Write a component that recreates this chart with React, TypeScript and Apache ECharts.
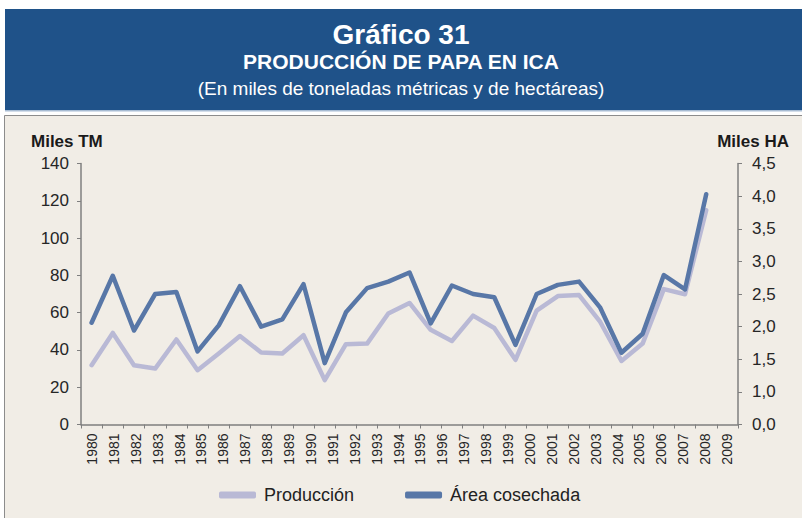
import React, { useEffect, useRef } from "react";
import * as echarts from "echarts";

// Year labels shown under the axis
const years: string[] = [
  "1980","1981","1982","1983","1984","1985","1986","1987","1988","1989",
  "1990","1991","1992","1993","1994","1995","1996","1997","1998","1999",
  "2000","2001","2002","2003","2004","2005","2006","2007","2008","2009",
];
// Plot slots of the data axis (the original axis keeps one empty slot at the end)
const dataSlots: string[] = [...years, ""];

// Producción (miles TM) – left axis
const produccion: number[] = [
  31.8, 49.1, 31.8, 30.0, 45.6, 29.1, 38.1, 47.5, 38.6, 38.1,
  47.9, 23.8, 43.1, 43.4, 59.5, 65.2, 50.8, 44.8, 58.4, 51.8,
  34.7, 61.1, 68.9, 69.4, 55.0, 34.1, 43.4, 72.6, 69.9, 114.9,
];
// Área cosechada (miles HA) – right axis
const area: number[] = [
  2.06, 2.78, 1.94, 2.50, 2.53, 1.62, 2.02, 2.62, 2.00, 2.11,
  2.65, 1.44, 2.22, 2.59, 2.69, 2.83, 2.05, 2.63, 2.50, 2.45,
  1.72, 2.50, 2.64, 2.69, 2.29, 1.60, 1.89, 2.79, 2.57, 4.03,
];

const leftTicks = { min: 0, max: 140, interval: 20 };
const rightTicks = { min: 0.5, max: 4.5, interval: 0.5 };
const rightTickLabels: string[] = ["0,0", "1,0", "1,5", "2,0", "2,5", "3,0", "3,5", "4,0", "4,5"];

const FONT = "'Liberation Sans', Arial, sans-serif";
const AXIS_GRAY = "#7f7f7f";
const LIGHT = "#b9b9d5";
const DARK = "#5877a7";

export default function App() {
  const ref = useRef<HTMLDivElement>(null);
  useEffect(() => {
    if (!ref.current) return;
    const chart = echarts.init(ref.current, undefined, { renderer: "svg" });
    chart.setOption({
      animation: false,
      backgroundColor: "#ffffff",
      textStyle: { fontFamily: FONT },
      graphic: [
        { type: "rect", z: -10, shape: { x: 5, y: 9, width: 797, height: 101 }, style: { fill: "#1f5289" } },
        { type: "rect", z: -10, shape: { x: 5, y: 110, width: 797, height: 1.5 }, style: { fill: "#a8bcd3" } },
        { type: "rect", z: -10, shape: { x: 4.5, y: 115.5, width: 800, height: 410 }, style: { fill: "#f1ede6", stroke: "#8c8c8c", lineWidth: 1 } },
        { type: "text", x: 401, y: 34, style: { text: "Gráfico 31", fill: "#ffffff", font: `bold 28px ${FONT}`, textAlign: "center", textVerticalAlign: "middle" } },
        { type: "text", x: 401, y: 61, style: { text: "PRODUCCIÓN DE PAPA EN ICA", fill: "#ffffff", font: `bold 21px ${FONT}`, textAlign: "center", textVerticalAlign: "middle" } },
        { type: "text", x: 401, y: 88, style: { text: "(En miles de toneladas métricas y de hectáreas)", fill: "#ffffff", font: `19px ${FONT}`, textAlign: "center", textVerticalAlign: "middle" } },
        { type: "text", x: 31, y: 141, style: { text: "Miles TM", fill: "#1a1a1a", font: `bold 17px ${FONT}`, textAlign: "left", textVerticalAlign: "middle" } },
        { type: "text", x: 789, y: 141, style: { text: "Miles HA", fill: "#1a1a1a", font: `bold 17px ${FONT}`, textAlign: "right", textVerticalAlign: "middle" } },
      ],
      grid: { left: 81, right: 64, top: 163.5, bottom: 93.5, containLabel: false },
      legend: {
        data: ["Producción", "Área cosechada"],
        left: 214,
        top: 481,
        icon: "roundRect",
        itemWidth: 37,
        itemHeight: 7,
        itemGap: 51,
        textStyle: { fontSize: 18, color: "#222222", fontFamily: FONT, padding: [0, 0, 0, 3] },
      },
      xAxis: [
        {
          type: "category",
          position: "bottom",
          data: dataSlots,
          boundaryGap: true,
          axisLine: { show: true, lineStyle: { color: AXIS_GRAY, width: 1.5 } },
          axisTick: { show: true, interval: 0, length: 4, lineStyle: { color: AXIS_GRAY } },
          axisLabel: { show: false },
          splitLine: { show: false },
        },
        {
          type: "category",
          position: "bottom",
          data: years,
          boundaryGap: true,
          axisLine: { show: false },
          axisTick: { show: false },
          axisLabel: { show: true, interval: 0, rotate: 90, margin: 9, fontSize: 14, color: "#262626", fontFamily: FONT },
          splitLine: { show: false },
        },
      ],
      yAxis: [
        {
          type: "value",
          position: "left",
          min: leftTicks.min,
          max: leftTicks.max,
          interval: leftTicks.interval,
          axisLine: { show: true, lineStyle: { color: AXIS_GRAY, width: 1.5 } },
          axisTick: { show: true, length: 4, lineStyle: { color: AXIS_GRAY } },
          axisLabel: { fontSize: 17, color: "#262626", margin: 12, fontFamily: FONT },
          splitLine: { show: false },
        },
        {
          type: "value",
          position: "right",
          min: rightTicks.min,
          max: rightTicks.max,
          interval: rightTicks.interval,
          axisLine: { show: true, lineStyle: { color: AXIS_GRAY, width: 1.5 } },
          axisTick: { show: true, length: 4, lineStyle: { color: AXIS_GRAY } },
          axisLabel: {
            fontSize: 17,
            color: "#262626",
            margin: 14,
            padding: [6, 0, 0, 0],
            fontFamily: FONT,
            formatter: (v: number) => rightTickLabels[Math.round((v - rightTicks.min) / rightTicks.interval)] ?? "",
          },
          splitLine: { show: false },
        },
      ],
      series: [
        {
          name: "Producción",
          type: "line",
          xAxisIndex: 0,
          yAxisIndex: 0,
          data: produccion,
          symbol: "none",
          color: LIGHT,
          lineStyle: { color: LIGHT, width: 4.5, cap: "round", join: "round" },
          z: 2,
        },
        {
          name: "Área cosechada",
          type: "line",
          xAxisIndex: 0,
          yAxisIndex: 1,
          data: area,
          symbol: "none",
          color: DARK,
          lineStyle: { color: DARK, width: 4.5, cap: "round", join: "round" },
          z: 3,
        },
      ],
    });
    return () => chart.dispose();
  }, []);
  return (
    <div
      ref={ref}
      style={{ position: "absolute", left: 0, top: 0, width: 802, height: 518 }}
    />
  );
}
